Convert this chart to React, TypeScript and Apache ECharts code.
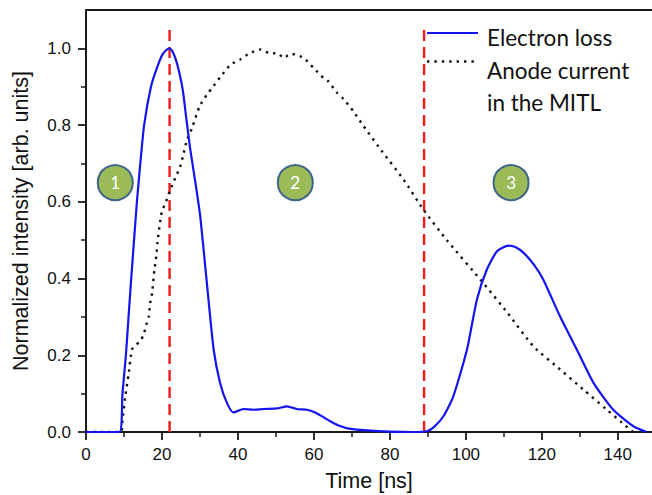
import React, { useEffect, useRef } from "react";
import * as echarts from "echarts";

// Electron loss signal (normalized), time in ns
const electronTime = [0, 8.8, 9.6, 10.5, 11.2, 11.9, 12.65, 13.4, 14.3, 15.3, 17.1, 18.7, 20.2, 21.8, 22.6, 23.5, 24.5, 25.5, 26.5, 27.4, 28.8, 30.1, 31.8, 33.6, 35.3, 37.1, 38.8, 41.5, 44.1, 46.7, 50.3, 52.9, 55.5, 58.2, 60.3, 62.3, 64.3, 66.5, 69.6, 73.9, 80, 86, 89.7, 91.5, 94.1, 96.7, 100.3, 102.9, 105.5, 108.2, 111.2, 113, 115.2, 118, 120.4, 124.8, 129.2, 133.6, 138.8, 144.1, 147.6];
const electronLoss = [0, 0, 0.1, 0.2, 0.3, 0.4, 0.5, 0.6, 0.7, 0.8, 0.9, 0.95, 0.985, 1.0, 0.995, 0.975, 0.94, 0.89, 0.81, 0.74, 0.65, 0.56, 0.39, 0.215, 0.128, 0.076, 0.051, 0.06, 0.058, 0.06, 0.0615, 0.067, 0.06, 0.058, 0.051, 0.04, 0.028, 0.017, 0.008, 0.004, 0.001, 0, 0.002, 0.012, 0.041, 0.093, 0.215, 0.345, 0.423, 0.471, 0.486, 0.482, 0.467, 0.435, 0.397, 0.301, 0.215, 0.128, 0.058, 0.015, 0];

// Anode current in the MITL (normalized)
const anodeTime = [0, 9.3, 9.6, 10.3, 11.2, 12.1, 13.2, 14.3, 15.2, 16, 16.5, 16.9, 17.4, 18, 18.5, 18.8, 19.6, 20, 21.1, 22.2, 23.5, 24.8, 25.5, 26.6, 27.9, 29.9, 31.8, 33.2, 35.5, 38, 40.6, 43.2, 45.9, 48.1, 50.7, 52, 53.8, 55.1, 57.3, 59.9, 62.5, 63.8, 66.1, 67.8, 70.4, 73.1, 77.9, 83.6, 88.8, 95, 104.6, 111, 117.8, 124, 131, 137, 141, 144];
const anodeCurrent = [0, 0, 0.03, 0.09, 0.15, 0.215, 0.228, 0.236, 0.255, 0.284, 0.3, 0.336, 0.362, 0.423, 0.458, 0.493, 0.553, 0.575, 0.601, 0.632, 0.662, 0.692, 0.718, 0.762, 0.792, 0.849, 0.879, 0.897, 0.927, 0.957, 0.971, 0.988, 0.997, 0.988, 0.986, 0.975, 0.985, 0.984, 0.975, 0.949, 0.923, 0.914, 0.884, 0.868, 0.836, 0.797, 0.732, 0.658, 0.58, 0.5, 0.388, 0.31, 0.223, 0.17, 0.11, 0.059, 0.025, 0];

// Phase boundaries (vertical dashed markers)
const markerTimes = [22, 89];
const markerTop = 1.06;

// Phase badges
const phaseTime = [7.7, 55.1, 111.9];
const phaseLevel = [0.65, 0.65, 0.65];
const phaseLabels = ["1", "2", "3"];

// Axis ticks
const xTicks = [0, 20, 40, 60, 80, 100, 120, 140];
const xMinorTicks = [10, 30, 50, 70, 90, 110, 130];
const yTicks = [0, 0.2, 0.4, 0.6, 0.8, 1.0];
const yMinorTicks = [0.1, 0.3, 0.5, 0.7, 0.9];

const X_MAX = 149;
const Y_MAX = 1.1;

const zip = (xs: number[], ys: number[]) => xs.map((x, i) => [x, ys[i]]);

const AXIS_COLOR = "#1a1a1a";
const ARIAL = "'Liberation Sans', Arial, sans-serif";
const LEGEND_FONT = "Lato, 'Open Sans', sans-serif";

// An axis that only draws a set of tick marks (no line, no labels)
const tickAxis = (position: string, max: number, interval: number, values: number[], length: number, width: number) => ({
  type: "value",
  position,
  min: 0,
  max,
  interval,
  axisLine: { show: false },
  splitLine: { show: false },
  axisLabel: { show: false },
  axisTick: { show: true, inside: false, length, customValues: values, lineStyle: { color: AXIS_COLOR, width } },
});

export default function App() {
  const ref = useRef<HTMLDivElement>(null);

  useEffect(() => {
    document.body.style.margin = "0";
    if (!ref.current) return;
    const chart = echarts.init(ref.current, null, { renderer: "svg" });

    const axisLine = { show: true, lineStyle: { color: AXIS_COLOR, width: 2 } };

    const option: any = {
      animation: false,
      backgroundColor: "#ffffff",
      grid: { left: 86, right: 0, top: 10, bottom: 63, containLabel: false, outerBoundsMode: "none" },
      xAxis: [
        {
          type: "value",
          position: "bottom",
          min: 0,
          max: X_MAX,
          interval: 20,
          axisLine,
          splitLine: { show: false },
          axisTick: { show: false },
          axisLabel: { customValues: xTicks, margin: 14, color: "#111", fontSize: 17, fontFamily: ARIAL },
          name: "Time [ns]",
          nameLocation: "middle",
          nameGap: 38,
          nameTextStyle: { color: "#111", fontSize: 21.5, fontFamily: ARIAL },
        },
        tickAxis("bottom", X_MAX, 20, xTicks, 8, 1.8),
        tickAxis("bottom", X_MAX, 20, xMinorTicks, 5, 1.5),
        {
          type: "value",
          position: "top",
          min: 0,
          max: X_MAX,
          axisLine,
          splitLine: { show: false },
          axisTick: { show: false },
          axisLabel: { show: false },
        },
      ],
      yAxis: [
        {
          type: "value",
          position: "left",
          min: 0,
          max: Y_MAX,
          interval: 0.2,
          axisLine,
          splitLine: { show: false },
          axisTick: { show: false },
          axisLabel: {
            customValues: yTicks,
            margin: 15,
            color: "#111",
            fontSize: 17,
            fontFamily: ARIAL,
            formatter: (v: number) => v.toFixed(1),
          },
          name: "Normalized intensity [arb. units]",
          nameLocation: "middle",
          nameGap: 54,
          nameTextStyle: { color: "#111", fontSize: 21.5, fontFamily: ARIAL },
        },
        tickAxis("left", Y_MAX, 0.2, yTicks, 8, 1.8),
        tickAxis("left", Y_MAX, 0.2, yMinorTicks, 5, 1.5),
      ],
      series: [
        ...markerTimes.map((t) => ({
          type: "line",
          xAxisIndex: 0,
          yAxisIndex: 0,
          data: [
            [t, 0],
            [t, markerTop],
          ],
          symbol: "none",
          lineStyle: { color: "#f01a1a", width: 2.4, type: [11, 6] },
          z: 2,
        })),
        {
          name: "Anode current in the MITL",
          type: "line",
          xAxisIndex: 0,
          yAxisIndex: 0,
          data: zip(anodeTime, anodeCurrent),
          symbol: "none",
          smooth: 0.2,
          lineStyle: { color: "#111", width: 2.4, type: [2.4, 5], cap: "butt" },
          z: 3,
        },
        {
          name: "Electron loss",
          type: "line",
          xAxisIndex: 0,
          yAxisIndex: 0,
          data: zip(electronTime, electronLoss),
          symbol: "none",
          smooth: 0.2,
          lineStyle: { color: "#1414ee", width: 2.2 },
          z: 4,
        },
        {
          type: "scatter",
          xAxisIndex: 0,
          yAxisIndex: 0,
          data: phaseTime.map((t, i) => [t, phaseLevel[i], phaseLabels[i]]),
          symbol: "circle",
          symbolSize: 35,
          itemStyle: { color: "#9bbb59", borderColor: "#41668c", borderWidth: 2, opacity: 1 },
          label: {
            show: true,
            position: "inside",
            formatter: (p: any) => p.data[2],
            color: "#ffffff",
            fontSize: 17,
            fontFamily: LEGEND_FONT,
          },
          z: 5,
        },
      ],
      graphic: [
        { type: "line", shape: { x1: 427, y1: 33, x2: 478, y2: 33 }, style: { stroke: "#1414ee", lineWidth: 2.2 } },
        {
          type: "line",
          shape: { x1: 427, y1: 61.5, x2: 478, y2: 61.5 },
          style: { stroke: "#111", lineWidth: 2.4, lineDash: [2.4, 5], lineCap: "butt" },
        },
        { type: "text", x: 487, y: 37, style: { text: "Electron loss", fill: "#111", font: `22.5px ${LEGEND_FONT}`, textVerticalAlign: "middle", verticalAlign: "middle" } },
        { type: "text", x: 487, y: 70.5, style: { text: "Anode current", fill: "#111", font: `22.5px ${LEGEND_FONT}`, textVerticalAlign: "middle", verticalAlign: "middle" } },
        { type: "text", x: 487, y: 102.5, style: { text: "in the MITL", fill: "#111", font: `22.5px ${LEGEND_FONT}`, textVerticalAlign: "middle", verticalAlign: "middle" } },
      ],
    };

    chart.setOption(option);
    return () => chart.dispose();
  }, []);

  return <div ref={ref} style={{ width: 652, height: 495 }} />;
}
